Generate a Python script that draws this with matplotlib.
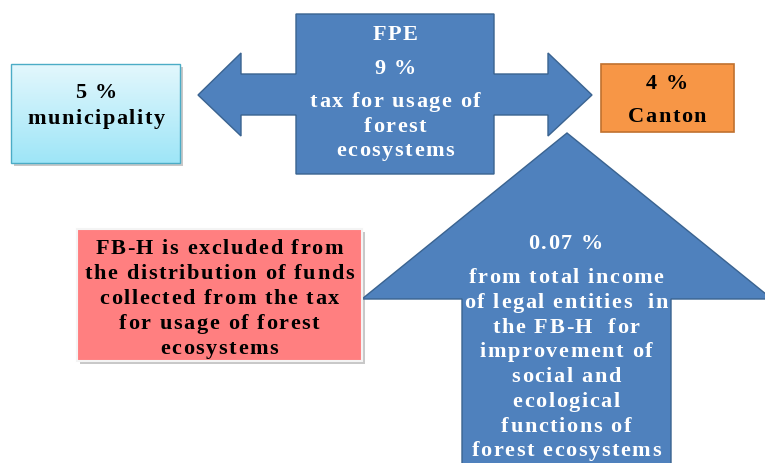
import matplotlib.pyplot as plt
from matplotlib.patches import Polygon, Rectangle
from matplotlib.font_manager import FontProperties, findfont
from matplotlib.ft2font import FT2Font
import numpy as np

# Texts of the diagram
fpe_lines = ["FPE", "9 %", "tax for usage of", "forest", "ecosystems"]
fpe_y = [33, 67, 100, 125, 149]
muni_lines = ["5 %", "municipality"]
muni_y = [91, 117]
canton_lines = ["4 %", "Canton"]
canton_y = [82, 115]
fbh_lines = ["FB-H is excluded from", "the distribution of funds",
             "collected from the tax", "for usage of forest", "ecosystems"]
fbh_y = [247, 272, 297, 322, 347]
income_lines = ["0.07 %", "from total income", "of legal entities  in",
                "the FB-H  for", "improvement of", "social and",
                "ecological", "functions of", "forest ecosystems"]
income_y = [242, 276, 301, 326, 350, 375, 400, 425, 449]

blue = "#4F81BD"
blue_edge = "#3A6390"
FONT_PT = 16
TRACK = 1.6  # extra px between letters, the original text is spaced out

prop = FontProperties(family="Liberation Serif", weight="bold", size=FONT_PT)
ft = FT2Font(findfont(prop))
ft.set_size(FONT_PT, 100)

def advances(s):
    out = []
    for c in s:
        g = ft.load_char(ord(c))
        out.append(g.linearHoriAdvance / 65536.0)
    return out

fig = plt.figure(figsize=(7.65, 4.64), dpi=100)
ax = fig.add_axes([0, 0, 1, 1])
ax.set_xlim(0, 765)
ax.set_ylim(464, 0)
ax.axis("off")

# Left-right arrow with central box (FPE)
lr = [(296, 15), (494, 15), (494, 75), (548, 75), (548, 54), (592, 96),
      (548, 137), (548, 116), (494, 116), (494, 175), (296, 175),
      (296, 116), (241, 116), (241, 137), (198, 96), (241, 54),
      (241, 75), (296, 75)]
ax.add_patch(Polygon(lr, closed=True, fc=blue, ec=blue_edge, lw=1.0, zorder=2))

# Up arrow
up = [(567, 134), (772, 300), (671, 300), (671, 470), (462, 470),
      (462, 300), (362, 300)]
ax.add_patch(Polygon(up, closed=True, fc=blue, ec=blue_edge, lw=1.0, zorder=2))

# Municipality box with gradient and shadow
ax.add_patch(Rectangle((14, 68), 169, 99, fc="#c8c8c8", ec="none", zorder=1))
grad = np.linspace(0, 1, 100).reshape(-1, 1)
top = np.array([0.89, 0.97, 0.99])
bot = np.array([0.62, 0.90, 0.97])
img = top + grad[..., None] * (bot - top)
ax.imshow(img, extent=(11, 180, 164, 65), aspect="auto", zorder=2)
ax.add_patch(Rectangle((11, 65), 169, 99, fc="none", ec="#4BACC6", lw=1.0, zorder=3))

# Canton box
ax.add_patch(Rectangle((601, 65), 133, 68, fc="#F79646", ec="#C0712F", lw=1.2, zorder=2))

# FB-H box with shadow
ax.add_patch(Rectangle((80, 233), 285, 132, fc="#c8c8c8", ec="none", zorder=1))
ax.add_patch(Rectangle((77, 230), 285, 132, fc="#FF7F80", ec="#f4f4f4", lw=1.5, zorder=2))

def spaced(line, xc, yc, color):
    adv = advances(line)
    total = sum(adv) + TRACK * (len(line) - 1)
    x = xc - total / 2
    base = yc + 0.32 * FONT_PT * 100 / 72
    for c, a in zip(line, adv):
        if c != " ":
            ax.text(x, base, c, ha="left", va="baseline", color=color,
                    fontproperties=prop, zorder=5)
        x += a + TRACK

def put(lines, ys, x, color):
    for t, y in zip(lines, ys):
        spaced(t, x, y, color)

put(fpe_lines, fpe_y, 395, "white")
put(muni_lines, muni_y, 96, "black")
put(canton_lines, canton_y, 667, "black")
put(fbh_lines, fbh_y, 219, "black")
put(income_lines, income_y, 566, "white")

fig.savefig("out.png", dpi=100)
